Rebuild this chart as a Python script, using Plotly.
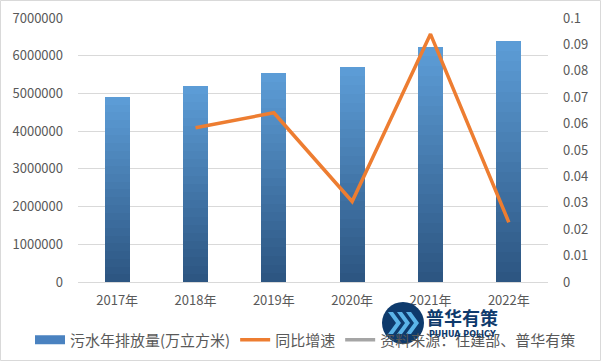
import plotly.graph_objects as go

years = ["2017年", "2018年", "2019年", "2020年", "2021年", "2022年"]
discharge = [4910000, 5210000, 5540000, 5710000, 6240000, 6380000]
growth = [None, 0.0584, 0.0641, 0.0305, 0.0939, 0.0226]
left_ticks = [0, 1000000, 2000000, 3000000, 4000000, 5000000, 6000000, 7000000]
right_ticks = [0, 0.01, 0.02, 0.03, 0.04, 0.05, 0.06, 0.07, 0.08, 0.09, 0.1]
right_labels = ["0", "0.01", "0.02", "0.03", "0.04", "0.05", "0.06", "0.07", "0.08", "0.09", "0.1"]

W, H = 601, 361
ML, MR, MT, MB = 78, 53, 18, 79
PW, PH = W - ML - MR, H - MT - MB

def px(x):
    return (x - ML) / PW

def py(y):
    return (H - MB - y) / PH

FONT = "Noto Sans CJK SC, Noto Sans, sans-serif"
TICKC = "#595959"

fig = go.Figure()

# gradient bars: stacked slices, light at top, dark at bottom
N = 24
top_c = (93, 158, 216)
bot_c = (44, 84, 128)
for i in range(N):
    t = (i + 0.5) / N
    c = tuple(round(bot_c[k] + (top_c[k] - bot_c[k]) * t) for k in range(3))
    col = "rgb(%d,%d,%d)" % c
    fig.add_trace(go.Bar(
        x=years, y=[v / N for v in discharge], width=0.32,
        marker=dict(color=col, line=dict(width=0)),
        name="污水年排放量(万立方米)", showlegend=False,
        hoverinfo="skip",
    ))

# legend entry for bars (wide swatch)
fig.add_trace(go.Scatter(
    x=[None], y=[None], mode="lines",
    line=dict(color="#4A82C0", width=9), name="污水年排放量(万立方米)",
))
fig.add_trace(go.Scatter(
    x=years, y=growth, yaxis="y2", mode="lines",
    line=dict(color="#ED7D31", width=3.5), name="同比增速",
))
fig.add_trace(go.Scatter(
    x=[None], y=[None], yaxis="y2", mode="lines",
    line=dict(color="#A5A5A5", width=3.5), name="资料来源：住建部、普华有策",
))

shapes = [
    dict(type="rect", xref="paper", yref="paper", x0=px(0.5), x1=px(600.5),
         y0=py(360.5), y1=py(0.5), line=dict(color="#D9D9D9", width=1),
         fillcolor="rgba(0,0,0,0)", layer="below"),
    # watermark logo
    dict(type="circle", xref="paper", yref="paper", x0=px(382), x1=px(424),
         y0=py(344), y1=py(302), line=dict(width=0), fillcolor="#0E3A6C"),
]
for dx in (0, 9, 18):
    x0 = 388 + dx
    path = "M %f %f L %f %f L %f %f L %f %f L %f %f L %f %f Z" % (
        px(x0), py(312), px(x0 + 5), py(312), px(x0 + 13), py(323),
        px(x0 + 5), py(334), px(x0), py(334), px(x0 + 8), py(323))
    shapes.append(dict(type="path", xref="paper", yref="paper", path=path,
                       line=dict(width=0), fillcolor="#5BB4E8"))

annotations = [
    dict(text="<b>普华有策</b>", xref="paper", yref="paper", x=px(462), y=py(317),
         showarrow=False, font=dict(family=FONT, size=18, color="#0E3A6C"),
         xanchor="center", yanchor="middle"),
    dict(text="<b>PUHUA POLICY</b>", xref="paper", yref="paper", x=px(462), y=py(334),
         showarrow=False, font=dict(family="DejaVu Sans, sans-serif", size=8, color="#0E3A6C"),
         xanchor="center", yanchor="middle"),
]

fig.update_layout(
    width=W, height=H,
    margin=dict(l=ML, r=MR, t=MT, b=MB, autoexpand=False),
    paper_bgcolor="white", plot_bgcolor="white",
    barmode="stack",
    font=dict(family=FONT, size=13, color=TICKC),
    xaxis=dict(showgrid=False, showline=True, linecolor="#D9D9D9", linewidth=1,
               ticks="", ticklabelstandoff=6, tickfont=dict(size=13, color=TICKC)),
    yaxis=dict(range=[0, 7000000], tickvals=left_ticks, tickformat="d",
               showgrid=True, gridcolor="#D9D9D9", gridwidth=1,
               zeroline=False, showline=False, ticks="",
               ticklabelstandoff=14, tickfont=dict(size=13, color=TICKC)),
    yaxis2=dict(range=[0, 0.1], overlaying="y", side="right",
                tickvals=right_ticks, ticktext=right_labels,
                showgrid=False, zeroline=False, showline=False, ticks="",
                ticklabelstandoff=14, tickfont=dict(size=13, color=TICKC)),
    legend=dict(orientation="h", xref="paper", yref="paper",
                x=px(30), xanchor="left", y=py(340), yanchor="middle",
                font=dict(size=15, color=TICKC), traceorder="normal",
                itemwidth=30, bgcolor="rgba(0,0,0,0)"),
    shapes=shapes,
    annotations=annotations,
    showlegend=True,
)

fig.write_html("out.html", config={"displayModeBar": False},
               post_script="document.body.style.margin='0';document.body.style.overflow='hidden';")
